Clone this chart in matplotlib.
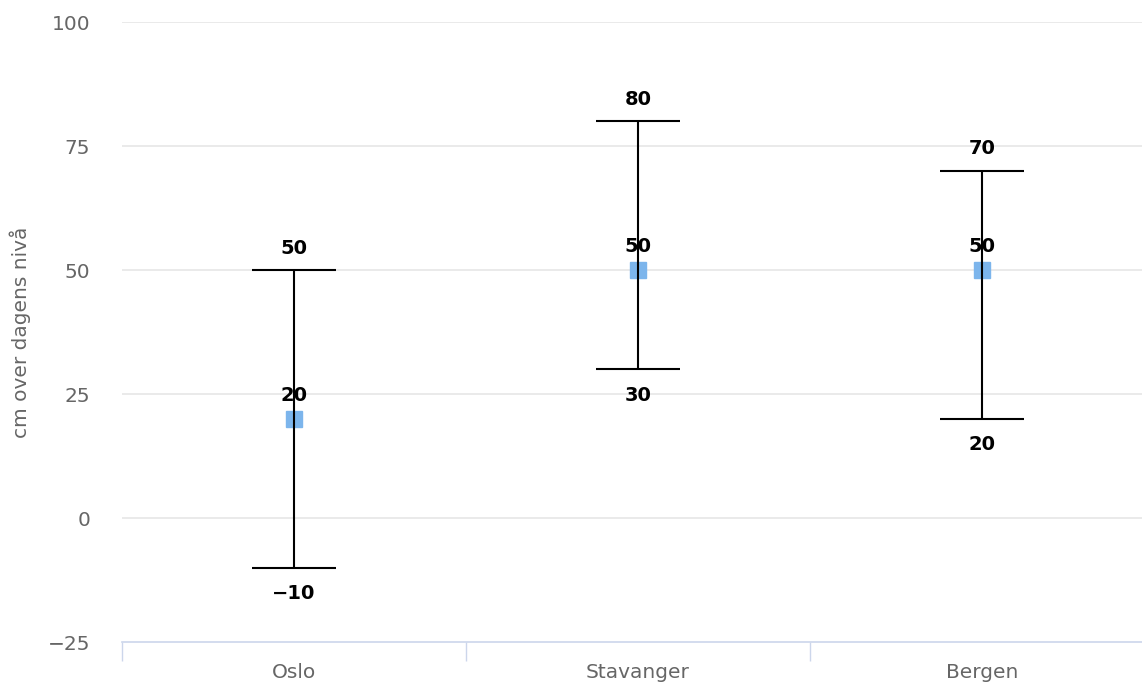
import matplotlib.pyplot as plt

cities = ["Oslo", "Stavanger", "Bergen"]
median = [20, 50, 50]
low = [-10, 30, 20]
high = [50, 80, 70]
y_ticks = [-25, 0, 25, 50, 75, 100]

W, H = 1142, 683
fig = plt.figure(figsize=(W / 100, H / 100), dpi=100)
ax = fig.add_axes([122 / W, 41 / H, 1032 / W, 620 / H])

x = list(range(len(cities)))
ax.set_xlim(-0.5, len(cities) - 0.5)
ax.set_ylim(-25, 100)

for y in y_ticks[1:]:
    ax.axhline(y, color="#e6e6e6", lw=1.2, zorder=0)

ax.plot(x, median, "s", color="#7cb5ec", markersize=11.5, zorder=2)
ax.vlines(x, low, high, color="black", lw=1.5, zorder=3)
ax.hlines(low, [i - 0.122 for i in x], [i + 0.122 for i in x], color="black", lw=1.5, zorder=3)
ax.hlines(high, [i - 0.122 for i in x], [i + 0.122 for i in x], color="black", lw=1.5, zorder=3)

label_kw = dict(textcoords="offset points", ha="center", fontsize=14,
                fontweight="bold", color="black", zorder=4)
for i in x:
    ax.annotate(f"{high[i]}", (i, high[i]), xytext=(0, 9), va="bottom", **label_kw)
    ax.annotate(f"{median[i]}", (i, median[i]), xytext=(0, 10), va="bottom", **label_kw)
    ax.annotate(f"{low[i]}".replace("-", "\u2212"), (i, low[i]), xytext=(0, -12),
                va="top", **label_kw)

for side in ["top", "right", "left"]:
    ax.spines[side].set_visible(False)
ax.spines["bottom"].set_color("#ccd6eb")
ax.spines["bottom"].set_linewidth(1.2)

ax.set_yticks(y_ticks)
ax.set_yticklabels([str(v).replace("-", "\u2212") for v in y_ticks])
ax.tick_params(axis="y", length=0, pad=23, labelsize=14.5, labelcolor="#666666")

ax.set_xticks([i - 0.5 for i in range(len(cities) + 1)])
ax.set_xticklabels([])
ax.tick_params(axis="x", which="major", length=13.5, width=1, color="#ccd6eb", direction="out")
ax.set_xticks(x, minor=True)
ax.set_xticklabels(cities, minor=True)
ax.tick_params(axis="x", which="minor", length=0, pad=15, labelsize=14.5, labelcolor="#666666")

ax.set_ylabel("cm over dagens nivå", fontsize=14.5, color="#666666")
ax.yaxis.set_label_coords(-0.088, 0.5)

fig.savefig("out.png", dpi=100)
